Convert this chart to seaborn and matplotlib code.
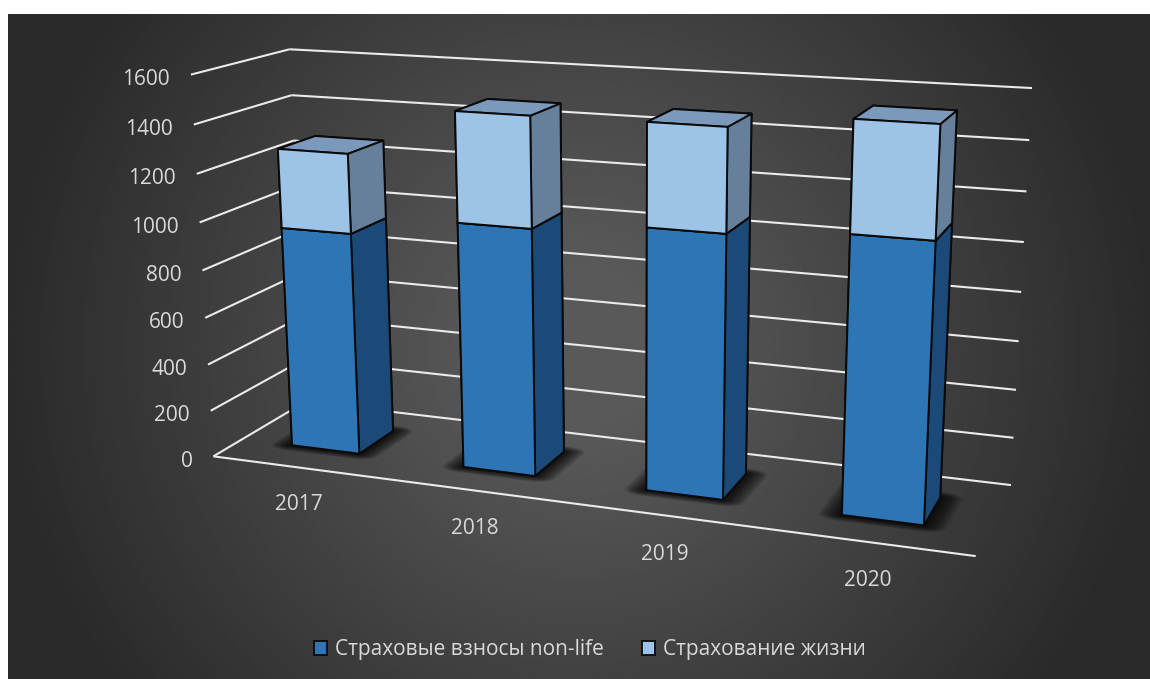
import numpy as np
import matplotlib
matplotlib.use("Agg")
import matplotlib.pyplot as plt
from matplotlib.patches import Patch
from mpl_toolkits.mplot3d.art3d import Line3DCollection, Poly3DCollection
import seaborn as sns

# Chart data
years = ["2017", "2018", "2019", "2020"]
non_life = [945, 1028, 1071, 1108]
life = [330, 448, 409, 430]
value_ticks = [0, 200, 400, 600, 800, 1000, 1200, 1400, 1600]
series_names = ["Страховые взносы non-life", "Страхование жизни"]

# Face colours of the two series: front, side, top
NON_LIFE_FACES = ("#2e75b6", "#1c4a78", "#2e75b6")
LIFE_FACES = ("#9dc3e6", "#66809c", "#7a99bb")
TEXT_COLOR = "#d9d9d9"
GRID_COLOR = "#ebebeb"
EDGE_COLOR = "#0a0a0a"

W, H = 1150, 679
sns.set_theme(style="dark", rc={"figure.dpi": 100, "savefig.dpi": 100})
plt.rcParams["font.family"] = ["Open Sans", "DejaVu Sans"]

fig = plt.figure(figsize=(W / 100, H / 100), facecolor="white")

# Dark radial backdrop of the chart area, brightness falling off with distance from the centre
bg = fig.add_axes([8 / W, 0, (W - 8) / W, (H - 14) / H], zorder=0)
px_x, px_y = np.meshgrid(np.linspace(8, W, 480), np.linspace(14, H, 280))
distance = np.hypot(px_x - 579, px_y - 346)
bg.imshow(np.clip(97 - 0.095 * distance, 42, 90), cmap="gray", vmin=0, vmax=255,
          aspect="auto", interpolation="bilinear")
bg.set_axis_off()

ax = fig.add_axes([0, 0, 1, 1], projection="3d", computed_zorder=False, zorder=1)
ax.set_axis_off()
ax.patch.set_alpha(0)
ax.apply_aspect = lambda position=None: None

# Perspective camera solved from where the chart box corners land on the canvas.
# World axes: category position, depth (0 front, 1 back), value.
BOX_ANCHORS = [
    ((0, 0, 0), (213, 456)), ((4, 0, 0), (976, 556)), ((0, 1, 0), (306, 402)),
    ((4, 1, 0), (1011, 485)), ((0, 0, 1600), (191, 75)), ((0, 1, 1600), (289, 49)),
    ((4, 1, 1600), (1032, 88)), ((0, 0, 1000), (199.5, 222)), ((0, 0, 1400), (194, 125)),
    ((4, 1, 1000), (1024, 242)), ((4, 1, 200), (1013, 438)), ((0, 1, 1400), (292, 95)),
]


def solve_camera(anchors):
    rows = []
    for (x, y, z), (px, py) in anchors:
        z = z / 1000
        rows.append([x, y, z, 1, 0, 0, 0, 0, -px * x, -px * y, -px * z, -px])
        rows.append([0, 0, 0, 0, x, y, z, 1, -py * x, -py * y, -py * z, -py])
    cam = np.linalg.svd(np.array(rows, float))[2][-1].reshape(3, 4)
    cam[:, 2] /= 1000
    return cam / (cam[2] @ np.array([2, 0.5, 800, 1]))


CAMERA = solve_camera(BOX_ANCHORS)


def to_canvas(x, y, z):
    h = CAMERA @ np.array([x, y, z, 1.0])
    return h[:2] / h[2]


def canvas_projection():
    inv = ax.transData.inverted()
    origin = inv.transform((0, H))
    ex = inv.transform((1, H)) - origin
    ey = inv.transform((0, H - 1)) - origin
    to_view = np.array([[ex[0], ey[0], origin[0]], [ex[1], ey[1], origin[1]], [0, 0, 1]])
    c = to_view @ CAMERA
    depth = np.array([-0.2, 1.0, -0.0002, 1.0])
    return np.vstack([c[0], c[1], depth, c[2]])


ax.get_proj = canvas_projection

# Walls and floor gridlines
segments = [[(0, 0, 0), (4, 0, 0)]]
for tick in value_ticks:
    segments.append([(0, 0, tick), (0, 1, tick)])
    segments.append([(0, 1, tick), (4, 1, tick)])
    px, py = to_canvas(0, 0, tick)
    fig.text((px - 21) / W, 1 - (py + 5) / H, str(tick), ha="right", va="center",
             color=TEXT_COLOR, fontsize=15)
ax.add_collection3d(Line3DCollection(segments, colors=GRID_COLOR, linewidths=1.5, zorder=2))


def floor_outline(x0, x1, y0, y1, mx, my_front, my_back):
    """Column footprint grown by an ellipse, which rounds the corners."""
    t = np.linspace(0, np.pi / 2, 8)
    c, s = np.cos(t), np.sin(t)
    pts = []
    pts += [(x1 + mx * a, y1 + my_back * b, 0) for a, b in zip(c, s)]
    pts += [(x0 - mx * a, y1 + my_back * b, 0) for a, b in zip(s, c)]
    pts += [(x0 - mx * a, y0 - my_front * b, 0) for a, b in zip(c, s)]
    pts += [(x1 + mx * a, y0 - my_front * b, 0) for a, b in zip(s, c)]
    return pts


# Soft contact shadows and stacked columns
BAR_X, BAR_W, BAR_Y, BAR_D = 0.3, 0.4, 0.3, 0.4
for i, (base, extra) in enumerate(zip(non_life, life)):
    x0, x1 = i + BAR_X, i + BAR_X + BAR_W
    y0, y1 = BAR_Y, BAR_Y + BAR_D
    for k in np.linspace(1.2, 0.05, 30):
        outline = floor_outline(x0, x1, y0, y1, 0.095 * k, 0.07 * k, 0.07 * k)
        ax.add_collection3d(Poly3DCollection([outline], facecolor=(0, 0, 0, 0.035),
                                             edgecolor="none", zorder=3))
    for bottom, height, (front, side, top), order in (
        (0, base, NON_LIFE_FACES, 5), (base, extra, LIFE_FACES, 6)
    ):
        # bar3d face order: bottom, top, front, back, left, right
        ax.bar3d(x0, y0, bottom, BAR_W, BAR_D, height,
                 color=[top, top, front, side, side, side], shade=False,
                 edgecolor=EDGE_COLOR, linewidth=1.4, zorder=order)

# Category labels below the floor
for year, (px, py) in zip(years, [(299, 505), (475, 529), (665, 554), (868, 581)]):
    fig.text(px / W, 1 - py / H, year, ha="center", va="center", color=TEXT_COLOR, fontsize=15)

handles = [
    Patch(facecolor=NON_LIFE_FACES[0], edgecolor=EDGE_COLOR, linewidth=1.3, label=series_names[0]),
    Patch(facecolor=LIFE_FACES[0], edgecolor=EDGE_COLOR, linewidth=1.3, label=series_names[1]),
]
fig.legend(handles=handles, loc="center", bbox_to_anchor=(590 / W, 1 - 650 / H), ncol=2,
           frameon=False, fontsize=15, labelcolor=TEXT_COLOR, handlelength=0.62,
           handleheight=0.62, handletextpad=0.4, columnspacing=1.8)

fig.savefig("out.png", dpi=100)
